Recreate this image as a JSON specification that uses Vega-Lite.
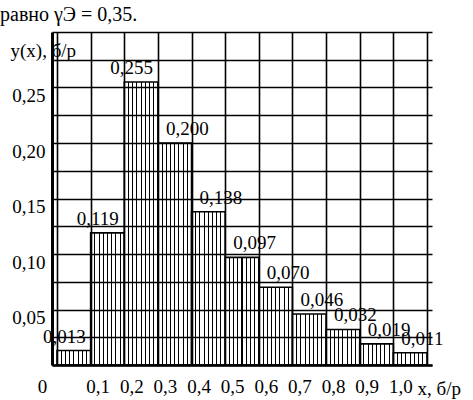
{
  "$schema": "https://vega.github.io/schema/vega-lite/v6.json",
  "width": 380,
  "height": 333,
  "autosize": {"type": "none"},
  "padding": {"left": 52, "top": 32, "right": 41, "bottom": 35},
  "background": "white",
  "config": {
    "locale": {"number": {"decimal": ",", "thousands": " ", "grouping": [3], "currency": ["", ""]}},
    "font": "Liberation Serif",
    "view": {"stroke": null}
  },
  "title": {
    "text": "равно γЭ = 0,35.",
    "anchor": "start",
    "frame": "group",
    "dx": -52,
    "offset": 6,
    "font": "Liberation Serif",
    "fontSize": 20,
    "fontWeight": "normal",
    "color": "black"
  },
  "data": {
    "values": [
      {"x0": 0.0, "x1": 0.1, "y": 0.013},
      {"x0": 0.1, "x1": 0.2, "y": 0.119},
      {"x0": 0.2, "x1": 0.3, "y": 0.255},
      {"x0": 0.3, "x1": 0.4, "y": 0.200},
      {"x0": 0.4, "x1": 0.5, "y": 0.138},
      {"x0": 0.5, "x1": 0.6, "y": 0.097},
      {"x0": 0.6, "x1": 0.7, "y": 0.070},
      {"x0": 0.7, "x1": 0.8, "y": 0.046},
      {"x0": 0.8, "x1": 0.9, "y": 0.032},
      {"x0": 0.9, "x1": 1.0, "y": 0.019},
      {"x0": 1.0, "x1": 1.1, "y": 0.011}
    ]
  },
  "encoding": {
    "x": {
      "field": "x0",
      "type": "quantitative",
      "scale": {"domain": [0, 1.1], "nice": false, "zero": false},
      "axis": {
        "values": [0, 0.1, 0.2, 0.3, 0.4, 0.5, 0.6, 0.7, 0.8, 0.9, 1.0, 1.1],
        "format": ".1f",
        "labelExpr": "datum.value == 0 ? '0' : (datum.value > 1.05 ? '' : datum.label)",
        "grid": true,
        "gridColor": "black",
        "gridWidth": 1.6,
        "ticks": false,
        "domainColor": "black",
        "domainWidth": 2.5,
        "labelFont": "Liberation Serif",
        "labelFontSize": 19,
        "labelColor": "black",
        "labelPadding": 12,
        "labelBaseline": "top",
        "labelOffset": {"condition": {"test": "datum.value == 0", "value": -15}, "value": 7},
        "labelFlush": false,
        "labelOverlap": false,
        "title": "x, б/р",
        "titleFont": "Liberation Serif",
        "titleFontSize": 19,
        "titleFontWeight": "normal",
        "titleColor": "black",
        "titleX": 365,
        "titleY": 23,
        "titleAlign": "left",
        "titleBaseline": "middle",
        "zindex": 1
      }
    },
    "y": {
      "field": "y",
      "type": "quantitative",
      "scale": {"domain": [0, 0.3], "nice": false},
      "axis": {
        "values": [0, 0.025, 0.05, 0.075, 0.1, 0.125, 0.15, 0.175, 0.2, 0.225, 0.25, 0.275, 0.3],
        "format": ".2f",
        "labelExpr": "(datum.value > 0.01 && datum.value < 0.29 && round(datum.value * 40) % 2 == 0) ? datum.label : ''",
        "grid": true,
        "gridColor": "black",
        "gridWidth": 1.6,
        "ticks": false,
        "domainColor": "black",
        "domainWidth": 3,
        "labelFont": "Liberation Serif",
        "labelFontSize": 19,
        "labelColor": "black",
        "labelPadding": 7,
        "labelBaseline": "middle",
        "labelOffset": 8,
        "labelFlush": false,
        "labelOverlap": false,
        "title": "y(x), б/р",
        "titleFont": "Liberation Serif",
        "titleFontSize": 19,
        "titleFontWeight": "normal",
        "titleColor": "black",
        "titleAngle": 0,
        "titleX": -42,
        "titleY": 18,
        "titleAlign": "left",
        "titleBaseline": "middle",
        "zindex": 1
      }
    }
  },
  "layer": [
    {
      "mark": {
        "type": "bar",
        "orient": "vertical",
        "stroke": "black",
        "strokeWidth": 1.6,
        "fill": {
          "gradient": "linear", "x1": 0, "x2": 1, "y1": 0, "y2": 0,
          "stops": [
            {"offset": 0, "color": "white"},
            {"offset": 0.11, "color": "white"}, {"offset": 0.11, "color": "black"}, {"offset": 0.14, "color": "black"}, {"offset": 0.14, "color": "white"},
            {"offset": 0.235, "color": "white"}, {"offset": 0.235, "color": "black"}, {"offset": 0.265, "color": "black"}, {"offset": 0.265, "color": "white"},
            {"offset": 0.36, "color": "white"}, {"offset": 0.36, "color": "black"}, {"offset": 0.39, "color": "black"}, {"offset": 0.39, "color": "white"},
            {"offset": 0.485, "color": "white"}, {"offset": 0.485, "color": "black"}, {"offset": 0.515, "color": "black"}, {"offset": 0.515, "color": "white"},
            {"offset": 0.61, "color": "white"}, {"offset": 0.61, "color": "black"}, {"offset": 0.64, "color": "black"}, {"offset": 0.64, "color": "white"},
            {"offset": 0.735, "color": "white"}, {"offset": 0.735, "color": "black"}, {"offset": 0.765, "color": "black"}, {"offset": 0.765, "color": "white"},
            {"offset": 0.86, "color": "white"}, {"offset": 0.86, "color": "black"}, {"offset": 0.89, "color": "black"}, {"offset": 0.89, "color": "white"},
            {"offset": 1, "color": "white"}
          ]
        }
      },
      "encoding": {
        "x2": {"field": "x1"},
        "y2": {"datum": 0}
      }
    },
    {
      "transform": [{"filter": "datum.x0 < 0.25"}],
      "mark": {"type": "text", "align": "left", "baseline": "alphabetic", "dx": -14, "dy": -8, "fontSize": 19, "color": "black"},
      "encoding": {
        "text": {"field": "y", "type": "quantitative", "format": ".3f"}
      }
    },
    {
      "transform": [{"filter": "datum.x0 > 0.25"}],
      "mark": {"type": "text", "align": "left", "baseline": "alphabetic", "dx": 8, "dy": -8, "fontSize": 19, "color": "black"},
      "encoding": {
        "text": {"field": "y", "type": "quantitative", "format": ".3f"}
      }
    }
  ]
}
